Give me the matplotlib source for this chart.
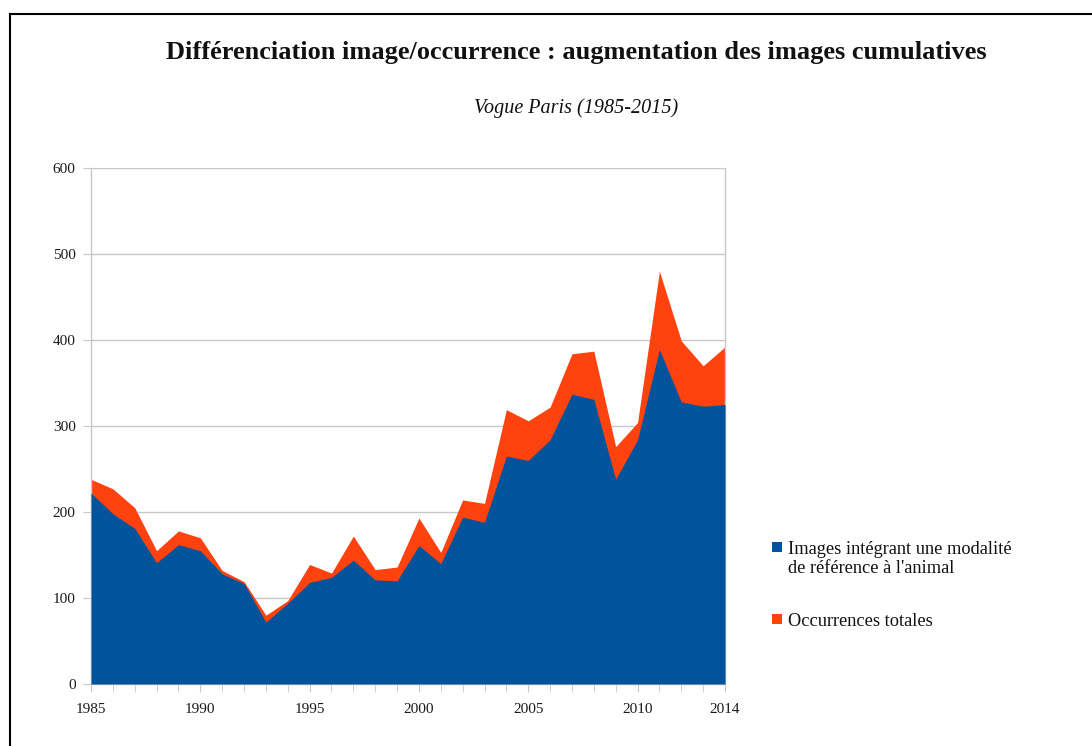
import matplotlib
matplotlib.use("Agg")
import matplotlib.pyplot as plt
from matplotlib.patches import Rectangle
from matplotlib.lines import Line2D

years = list(range(1985, 2015))
images_animal = [222, 198, 181, 141, 162, 155, 128, 117, 72, 94,
                 118, 124, 144, 121, 120, 161, 140, 194, 188, 265,
                 260, 284, 337, 331, 238, 284, 389, 328, 323, 325]
occurrences_totales = [238, 227, 205, 155, 178, 170, 132, 119, 80, 97,
                       139, 129, 172, 133, 136, 193, 153, 214, 210, 319,
                       306, 322, 384, 387, 276, 304, 480, 399, 370, 392]
x_ticks = [1985, 1990, 1995, 2000, 2005, 2010, 2014]
y_ticks = [0, 100, 200, 300, 400, 500, 600]

title = "Différenciation image/occurrence : augmentation des images cumulatives"
subtitle = "Vogue Paris (1985-2015)"
label_blue_lines = ["Images intégrant une modalité", "de référence à l'animal"]
label_red = "Occurrences totales"

BLUE = "#01539b"
RED = "#ff420e"
GRID = "#c8c8c8"
SERIF = ["Liberation Serif", "DejaVu Serif"]

W, H = 1092, 746
fig = plt.figure(figsize=(W / 100, H / 100), dpi=100)
ax = fig.add_axes([91 / W, 1 - 684 / H, (725 - 91) / W, (684 - 168) / H])

ax.fill_between(years, 0, occurrences_totales, color=RED, linewidth=0, zorder=2)
ax.fill_between(years, 0, images_animal, color=BLUE, linewidth=0, zorder=3)

ax.set_xlim(1985, 2014)
ax.set_ylim(0, 600)
ax.set_xticks(x_ticks)
ax.set_xticks(years, minor=True)
ax.set_yticks(y_ticks)
ax.yaxis.grid(True, color=GRID, linewidth=1.0, zorder=1)
ax.set_axisbelow(True)
for s in ax.spines.values():
    s.set_color(GRID)
    s.set_linewidth(1.0)
ax.spines["top"].set_visible(False)
ax.tick_params(axis="both", which="both", color=GRID, direction="out")
ax.tick_params(axis="y", length=6, pad=5)
ax.tick_params(axis="x", which="major", length=6, pad=8)
ax.tick_params(axis="x", which="minor", length=6)
for lab in ax.get_xticklabels() + ax.get_yticklabels():
    lab.set_family(SERIF)
    lab.set_fontsize(11)
    lab.set_color("#1a1a1a")

fig.text(576.5 / W, 1 - 59 / H, title, ha="center", va="baseline",
         family=SERIF, fontweight="bold", fontsize=19, color="#111111")
fig.text(576.5 / W, 1 - 113 / H, subtitle, ha="center", va="baseline",
         family=SERIF, style="italic", fontsize=14.5, color="#111111")

# legend (placed manually)
fig.add_artist(Rectangle((772 / W, 1 - 552 / H), 10 / W, 10 / H,
                         transform=fig.transFigure, facecolor=BLUE, edgecolor="none"))
fig.add_artist(Rectangle((772 / W, 1 - 624 / H), 10 / W, 10 / H,
                         transform=fig.transFigure, facecolor=RED, edgecolor="none"))
for i, line in enumerate(label_blue_lines):
    fig.text(788 / W, 1 - (554 + 19.3 * i) / H, line, ha="left", va="baseline",
             family=SERIF, fontsize=13.2, color="#111111")
fig.text(788 / W, 1 - 626.5 / H, label_red, ha="left", va="baseline",
         family=SERIF, fontsize=13.2, color="#111111")

# page border lines (top and left)
fig.add_artist(Line2D([9.5 / W, 1.0], [1 - 14 / H, 1 - 14 / H],
                      transform=fig.transFigure, color="black", linewidth=1.5))
fig.add_artist(Line2D([9.5 / W, 9.5 / W], [0, 1 - 14 / H],
                      transform=fig.transFigure, color="black", linewidth=1.5))

fig.savefig("out.png", dpi=100, facecolor="white")
